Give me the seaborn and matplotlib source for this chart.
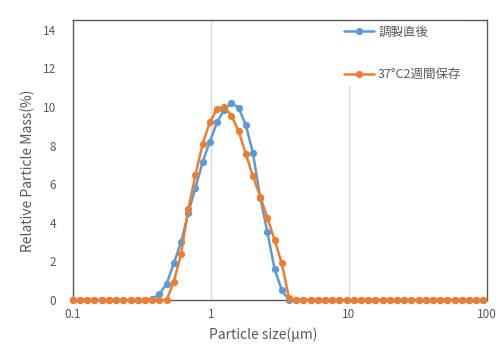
import matplotlib
matplotlib.use("Agg")
import matplotlib.pyplot as plt
import seaborn as sns
import pandas as pd
from matplotlib.ticker import FixedLocator, NullLocator, FixedFormatter
from matplotlib.lines import Line2D

# Particle size channels (μm)
sizes = [0.100, 0.113, 0.127, 0.143, 0.162, 0.182, 0.206, 0.232, 0.262, 0.295,
         0.333, 0.375, 0.423, 0.477, 0.538, 0.607, 0.684, 0.771, 0.870, 0.981,
         1.106, 1.247, 1.406, 1.586, 1.788, 2.016, 2.274, 2.564, 2.891, 3.260,
         3.676, 4.145, 4.674, 5.270, 5.943, 6.701, 7.556, 8.520, 9.608, 10.83,
         12.22, 13.77, 15.53, 17.51, 19.75, 22.27, 25.11, 28.31, 31.93, 36.00,
         40.59, 45.77, 51.61, 58.20, 65.63, 74.00, 83.45, 94.09]

series_names = ["調製直後", "37°C2週間保存"]

mass_fresh = [0, 0, 0, 0, 0, 0, 0, 0, 0, 0,
              0, 0.05, 0.3, 0.85, 1.9, 3.0, 4.5, 5.8, 7.15, 8.2,
              9.2, 9.85, 10.2, 9.95, 9.05, 7.6, 5.3, 3.5, 1.6, 0.5,
              0, 0, 0, 0, 0, 0, 0, 0, 0, 0,
              0, 0, 0, 0, 0, 0, 0, 0, 0, 0,
              0, 0, 0, 0, 0, 0, 0, 0]

mass_stored = [0, 0, 0, 0, 0, 0, 0, 0, 0, 0,
               0, 0, 0, 0, 0.95, 2.4, 4.7, 6.45, 8.1, 9.2,
               9.9, 10.0, 9.55, 8.75, 7.55, 6.4, 5.35, 4.25, 3.1, 1.9,
               0.1, 0, 0, 0, 0, 0, 0, 0, 0, 0,
               0, 0, 0, 0, 0, 0, 0, 0, 0, 0,
               0, 0, 0, 0, 0, 0, 0, 0]

x_ticks = [0.1, 1, 10, 100]
x_tick_labels = ["0.1", "1", "10", "100"]
y_ticks = [0, 2, 4, 6, 8, 10, 12, 14]

df = pd.DataFrame({
    "size": sizes * 2,
    "mass": mass_fresh + mass_stored,
    "series": [series_names[0]] * len(sizes) + [series_names[1]] * len(sizes),
})

sns.set_style("white")
plt.rcParams["font.family"] = ["Noto Sans CJK JP", "DejaVu Sans"]

fig = plt.figure(figsize=(4.99, 3.47), dpi=100)
ax = fig.add_axes([73 / 499, 1 - 300 / 347, 414 / 499, 280 / 347])

palette = {series_names[0]: "#5B9BD5", series_names[1]: "#ED7D31"}
sns.lineplot(data=df, x="size", y="mass", hue="series", palette=palette,
             marker="o", markersize=5.2, markeredgewidth=0, linewidth=1.8,
             ax=ax, legend=False, clip_on=False, zorder=3, sort=False)

ax.set_xscale("log")
ax.set_xlim(0.1, 100)
ax.set_ylim(0, 14.5)

ax.xaxis.set_major_locator(FixedLocator(x_ticks))
ax.xaxis.set_major_formatter(FixedFormatter(x_tick_labels))
ax.xaxis.set_minor_locator(NullLocator())
ax.yaxis.set_major_locator(FixedLocator(y_ticks))

for v in [1, 10]:
    ax.axvline(v, color="#D9D9D9", linewidth=1.0, zorder=1)

for s in ax.spines.values():
    s.set_color("#595959")
    s.set_linewidth(1.0)

ax.tick_params(axis="both", length=0, colors="#595959", labelsize=8.5)
ax.tick_params(axis="y", pad=12)
ax.tick_params(axis="x", pad=6)

ax.set_xlabel("Particle size(μm)", fontsize=10, color="#595959")
ax.set_ylabel("Relative Particle Mass(%)", fontsize=10, color="#595959")
ax.xaxis.set_label_coords((263 - 73) / 414, -(327 - 300) / 280)
ax.yaxis.set_label_coords((35 - 73) / 414, (300 - 171) / 280)

# Legend
handles = [Line2D([0], [0], color=palette[n], marker="o", markersize=5.2,
                  markeredgewidth=0, linewidth=1.8) for n in series_names]
leg = ax.legend(handles, series_names, loc="upper left",
                bbox_to_anchor=(340 / 499, 1 - 22 / 347),
                bbox_transform=fig.transFigure, frameon=True,
                fontsize=9, labelspacing=2.35, handlelength=2.4,
                handletextpad=0.35, borderpad=0.3, borderaxespad=0)
leg.get_frame().set_facecolor("white")
leg.get_frame().set_edgecolor("white")
leg.get_frame().set_alpha(1)
for t in leg.get_texts():
    t.set_color("#595959")

fig.savefig("out.png", dpi=100)
